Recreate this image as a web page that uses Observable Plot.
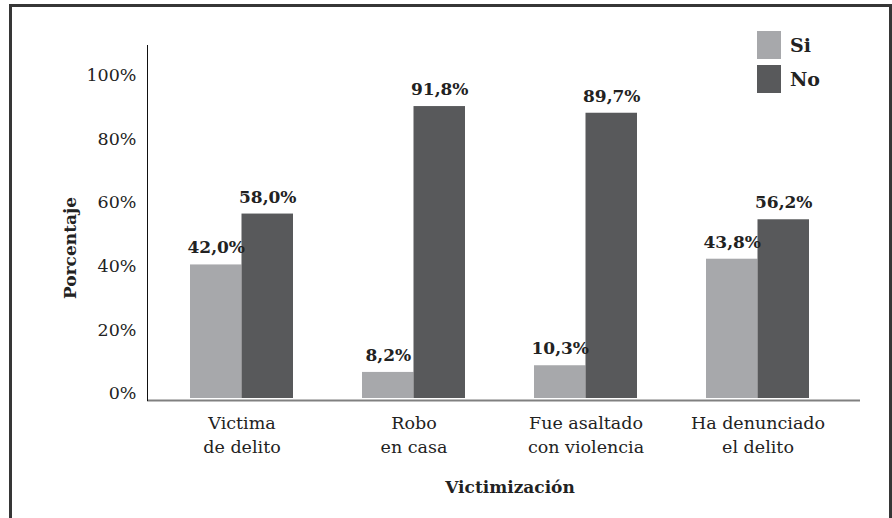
<!DOCTYPE html>
<html>
<head>
<meta charset="utf-8">
<script src="https://cdn.jsdelivr.net/npm/d3@7"></script>
<script src="https://cdn.jsdelivr.net/npm/@observablehq/plot@0.6"></script>
<style>
  html, body { margin: 0; padding: 0; background: #fff; overflow: hidden; }
  #wrap { position: relative; width: 892px; height: 518px; font-family: "DejaVu Serif", serif; }
  #border { position: absolute; left: 9px; top: 4px; width: 877px; height: 600px; border: 3px solid #363636; box-sizing: content-box; }
  #legend { position: absolute; left: 757px; top: 28px; font-weight: bold; font-size: 19px; color: #222; }
  .item { display: flex; align-items: center; height: 34px; }
  .sw { width: 24px; height: 28px; margin-right: 9px; }
  svg { position: absolute; left: 0; top: 0; }
</style>
</head>
<body>
<div id="wrap">
  <div id="border"></div>
  <div id="chart"></div>
  <div id="legend"></div>
</div>
<script>
const categories = ["Victima\nde delito", "Robo\nen casa", "Fue asaltado\ncon violencia", "Ha denunciado\nel delito"];
const series = ["Si", "No"];
const siValues = [42.0, 8.2, 10.3, 43.8];
const noValues = [58.0, 91.8, 89.7, 56.2];
const yTicks = [0, 20, 40, 60, 80, 100];
const colors = {Si: "#a7a8ab", No: "#58595b"};

const si = categories.map((c, i) => ({cat: c, series: "Si", value: siValues[i]}));
const no = categories.map((c, i) => ({cat: c, series: "No", value: noValues[i]}));
const fmt = v => v.toFixed(1).replace(".", ",") + "%";

const half = 51.5;
const font = "'DejaVu Serif', serif";

const chart = Plot.plot({
  width: 892,
  height: 518,
  marginLeft: 147,
  marginRight: 32,
  marginTop: 45,
  marginBottom: 118,
  style: {fontFamily: font, background: "transparent", color: "#222"},
  x: {domain: categories, paddingInner: 0.402, paddingOuter: 0.245, insetRight: 9, axis: null},
  y: {domain: [0, 111], insetBottom: 2, axis: null},
  marks: [
    Plot.barY(si, {x: "cat", y: "value", fill: colors.Si, insetRight: half, insetLeft: 0}),
    Plot.barY(no, {x: "cat", y: "value", fill: colors.No, insetLeft: half, insetRight: 0}),
    Plot.ruleY([0], {stroke: "#808080", strokeWidth: 2, dy: 2}),
    Plot.frame({anchor: "left", stroke: "#111", strokeWidth: 1}),
    Plot.axisY({ticks: yTicks, tickFormat: d => d + "%", tickSize: 0, tickPadding: 11, fontSize: 17.5, dy: -5, label: null, stroke: "none", fontFamily: font}),
    Plot.axisX({tickSize: 0, tickPadding: 12, fontSize: 17.5, lineHeight: 1.35, label: null, textAnchor: "middle", fontFamily: font}),
    Plot.text(si, {x: "cat", y: "value", text: d => fmt(d.value), dx: -half / 2, dy: -17, fontSize: 17, fontWeight: "bold", fill: "#222"}),
    Plot.text(no, {x: "cat", y: "value", text: d => fmt(d.value), dx: half / 2, dy: -17, fontSize: 17, fontWeight: "bold", fill: "#222"}),
    Plot.text(["Porcentaje"], {frameAnchor: "left", dx: -77, dy: 76, rotate: -90, fontSize: 17, fontWeight: "bold", fill: "#222"}),
    Plot.text(["Victimización"], {frameAnchor: "bottom", dy: 92, dx: 6, fontSize: 17, fontWeight: "bold", fill: "#222"})
  ]
});
document.getElementById("chart").appendChild(chart);

const legend = document.getElementById("legend");
for (const s of series) {
  const item = document.createElement("div");
  item.className = "item";
  const sw = document.createElement("div");
  sw.className = "sw";
  sw.style.background = colors[s];
  const label = document.createElement("span");
  label.textContent = s;
  item.appendChild(sw);
  item.appendChild(label);
  legend.appendChild(item);
}
</script>
</body>
</html>
